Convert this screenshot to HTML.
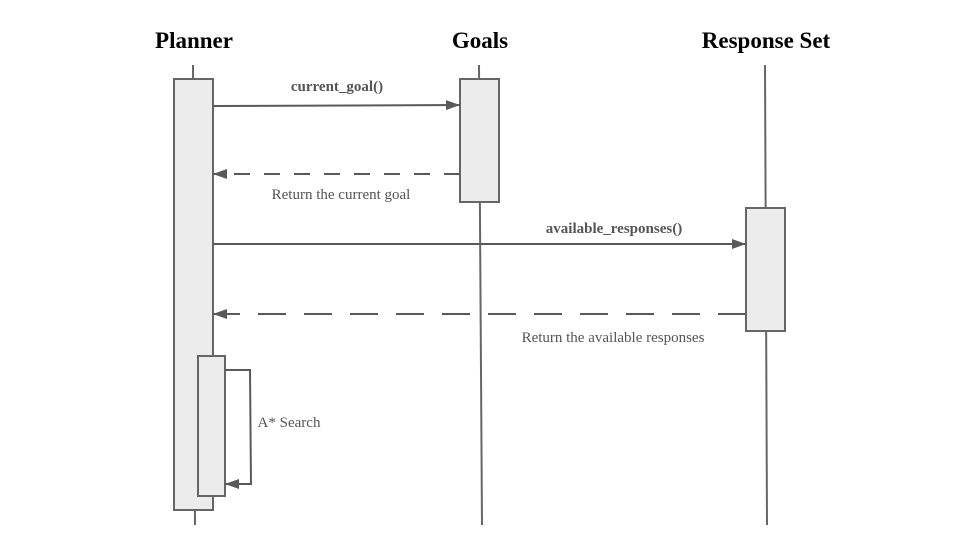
<!DOCTYPE html>
<html><head><style>
body{margin:0;background:#fff;width:960px;height:540px;overflow:hidden}
</style></head><body>
<svg width="960" height="540" xmlns="http://www.w3.org/2000/svg" font-family="Liberation Serif, serif">
<defs><marker id="a" markerWidth="14" markerHeight="10" refX="14" refY="5" orient="auto" markerUnits="userSpaceOnUse"><path d="M0,0 L14,5 L0,10z" fill="#595959"/></marker></defs>
<g font-weight="bold" font-size="23" fill="#000" text-anchor="middle">
<text x="194" y="48">Planner</text><text x="480" y="48">Goals</text><text x="766" y="48">Response Set</text></g>
<g stroke="#666" stroke-width="2" fill="none">
<line x1="193" y1="65" x2="195" y2="525"/>
<line x1="479" y1="65" x2="482" y2="525"/>
<line x1="765" y1="65" x2="767" y2="525"/>
</g>
<g stroke="#666" stroke-width="2" fill="#ececec">
<rect x="174" y="79" width="39" height="431"/>
<rect x="460" y="79" width="39" height="123"/>
<rect x="746" y="208" width="39" height="123"/>
<rect x="198" y="356" width="27" height="140"/>
</g>
<g stroke="#595959" stroke-width="2" fill="none">
<line x1="213" y1="106" x2="460" y2="105" marker-end="url(#a)"/>
<line x1="460" y1="174" x2="213" y2="174" stroke-dasharray="16,14" marker-end="url(#a)"/>
<line x1="213" y1="244" x2="746" y2="244" marker-end="url(#a)"/>
<line x1="746" y1="314" x2="213" y2="314" stroke-dasharray="28,18" marker-end="url(#a)"/>
<polyline points="225,370 250,370 251,484 225,484" marker-end="url(#a)"/>
</g>
<g font-size="15" fill="#555" text-anchor="middle">
<text x="337" y="91" font-weight="bold">current_goal()</text>
<text x="341" y="199">Return the current goal</text>
<text x="614" y="233" font-weight="bold">available_responses()</text>
<text x="613" y="342">Return the available responses</text>
<text x="289" y="427">A* Search</text>
</g>
</svg>
</body></html>
